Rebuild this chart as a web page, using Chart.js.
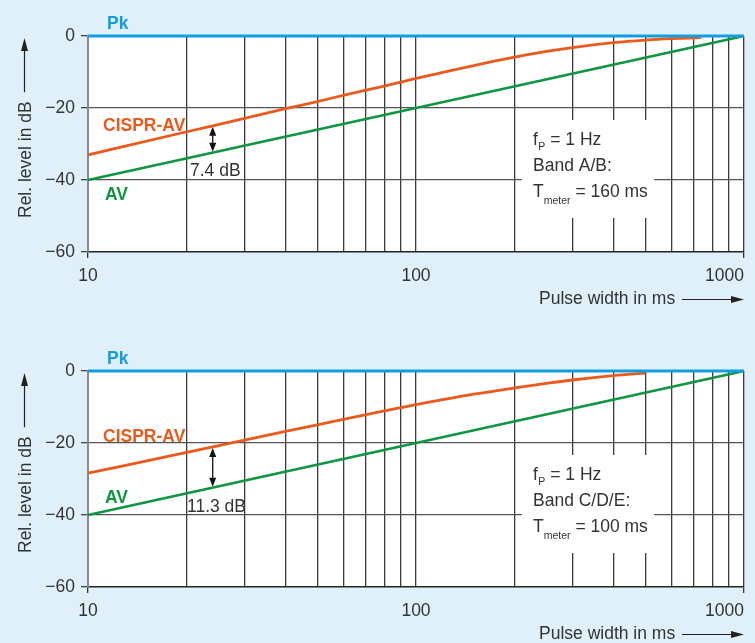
<!DOCTYPE html>
<html>
<head>
<meta charset="utf-8">
<script src="https://cdn.jsdelivr.net/npm/chart.js@4.4.1/dist/chart.umd.min.js"></script>
<style>
  html, body { margin: 0; padding: 0; background: #dff0fa; }
  #wrap { position: relative; width: 755px; height: 643px; background: #dff0fa; overflow: hidden; }
  .panel { position: absolute; left: 0; width: 755px; height: 308px; }
</style>
</head>
<body>
<div id="wrap">
  <div class="panel" style="top:0"><canvas id="chartAB" width="755" height="308"></canvas></div>
  <div class="panel" style="top:335px"><canvas id="chartCDE" width="755" height="308"></canvas></div>
</div>
<script>
// axis ticks
const xTicks = [10, 20, 30, 40, 50, 60, 70, 80, 90, 100, 200, 300, 400, 500, 600, 700, 800, 900, 1000];
const xLabels = [10, 100, 1000];
const yTicks = [0, -20, -40, -60];

// Pk and AV are the same in both panels
const pkWidth = [10, 1000];
const pkLevel = [0, 0];
const avWidth = [10, 1000];
const avLevel = [-40, 0];

// CISPR-AV, band A/B (T_meter = 160 ms)
const cisprWidthAB = [10, 20, 30, 40, 50, 60, 70, 80, 90, 100, 150, 200, 250, 300, 400, 500, 600, 700, 740];
const cisprLevelAB = [-33, -26.6, -22.9, -20.2, -18.2, -16.5, -15.1, -13.9, -12.8, -11.8, -8.2, -5.9, -4.3, -3.2, -1.85, -1.15, -0.75, -0.52, -0.45];

// CISPR-AV, band C/D/E (T_meter = 100 ms)
const cisprWidthCDE = [10, 20, 30, 40, 50, 60, 70, 80, 90, 100, 150, 200, 250, 300, 400, 500];
const cisprLevelCDE = [-28.4, -22.6, -19.2, -16.8, -14.95, -13.45, -12.2, -11.1, -10.17, -9.35, -6.45, -4.7, -3.45, -2.5, -1.3, -0.6];

// difference marker (pulse width, CISPR-AV level, AV level)
const gapWidth = 24;
const gapAB = [-24.9, -32.4];
const gapCDE = [-21.1, -32.4];

const FONT = '"Liberation Sans", Arial, sans-serif';
const FS = 17.5;
const PK_BLUE = '#129de0';
const ORANGE = '#ea5a1c';
const GREEN = '#0f9640';
const TEXT = '#333333';

Chart.defaults.font.family = FONT;

const toPoints = (xs, ys) => xs.map((v, i) => ({ x: v, y: ys[i] }));

function arrowHead(ctx, x, y, dx, dy, len, half) {
    // tip at (x,y), pointing along (dx,dy)
    ctx.beginPath();
    ctx.moveTo(x, y);
    ctx.lineTo(x - dx * len - dy * half, y - dy * len + dx * half);
    ctx.lineTo(x - dx * len + dy * half, y - dy * len - dx * half);
    ctx.closePath();
    ctx.fill();
}

const decor = {
    id: 'decor',
    beforeDraw(chart) {
        const { ctx, chartArea: a } = chart;
        ctx.save();
        ctx.fillStyle = '#ffffff';
        ctx.fillRect(a.left, a.top, a.right - a.left, a.bottom - a.top);
        ctx.restore();
    },
    afterDraw(chart, args, o) {
        const { ctx, chartArea: a } = chart;
        const x = chart.scales.x, y = chart.scales.y;
        ctx.save();

        // note box
        ctx.fillStyle = '#ffffff';
        ctx.fillRect(522, 120, 132, 98);
        ctx.fillStyle = TEXT;
        ctx.textBaseline = 'alphabetic';
        ctx.textAlign = 'left';
        const main = FS + 'px ' + FONT, sub = '10.5px ' + FONT;
        let px = 533;
        ctx.font = main; ctx.fillText('f', px, 145); px += ctx.measureText('f').width + 0.5;
        ctx.font = sub; ctx.fillText('P', px, 150); px += ctx.measureText('P').width;
        ctx.font = main; ctx.fillText(' = 1 Hz', px, 145);
        ctx.fillText(o.band, 533, 171);
        px = 533;
        ctx.fillText('T', px, 197); px += ctx.measureText('T').width;
        ctx.font = sub; ctx.fillText('meter', px, 204); px += ctx.measureText('meter').width;
        ctx.font = main; ctx.fillText(' = ' + o.tmeter + ' ms', px, 197);

        // series labels
        ctx.font = 'bold ' + FS + 'px ' + FONT;
        ctx.fillStyle = PK_BLUE; ctx.fillText('Pk', 107, 29);
        ctx.fillStyle = ORANGE; ctx.fillText('CISPR-AV', 103, o.cisprY);
        ctx.fillStyle = GREEN; ctx.fillText('AV', 105, o.avY);

        // difference arrow
        const gx = x.getPixelForValue(gapWidth);
        const g1 = y.getPixelForValue(o.gap[0]), g2 = y.getPixelForValue(o.gap[1]);
        ctx.strokeStyle = '#111'; ctx.fillStyle = '#111'; ctx.lineWidth = 1.3;
        ctx.beginPath(); ctx.moveTo(gx, g1 + 6); ctx.lineTo(gx, g2 - 6); ctx.stroke();
        arrowHead(ctx, gx, g1 + 1, 0, -1, 9, 3.5);
        arrowHead(ctx, gx, g2 - 1, 0, 1, 9, 3.5);
        ctx.fillStyle = TEXT;
        ctx.font = main;
        ctx.fillText(o.gapText, o.gapTextX, o.gapTextY);

        // x tick labels
        xLabels.forEach(v => {
            ctx.textAlign = v === 1000 ? 'right' : 'center';
            ctx.fillText(String(v), x.getPixelForValue(v), a.bottom + 29);
        });

        // x title with arrow
        ctx.textAlign = 'left';
        ctx.fillText('Pulse width in ms', 539, 304);
        ctx.strokeStyle = '#222'; ctx.fillStyle = '#222'; ctx.lineWidth = 1.2;
        ctx.beginPath(); ctx.moveTo(682, 299.5); ctx.lineTo(735, 299.5); ctx.stroke();
        arrowHead(ctx, 744, 299.5, 1, 0, 13, 3.5);

        // y title with arrow
        ctx.save();
        ctx.translate(31, 218);
        ctx.rotate(-Math.PI / 2);
        ctx.fillStyle = TEXT;
        ctx.fillText('Rel. level in dB', 0, 0);
        const w = ctx.measureText('Rel. level in dB').width;
        ctx.strokeStyle = '#222'; ctx.fillStyle = '#222';
        ctx.beginPath(); ctx.moveTo(w + 9, -6.5); ctx.lineTo(218 - 38 - 10, -6.5); ctx.stroke();
        arrowHead(ctx, 218 - 38, -6.5, 1, 0, 13, 3.5);
        ctx.restore();

        ctx.restore();
    }
};

function makeChart(id, cisprWidth, cisprLevel, note) {
    return new Chart(document.getElementById(id), {
        type: 'line',
        data: {
            datasets: [
                { label: 'Pk', data: toPoints(pkWidth, pkLevel), borderColor: PK_BLUE, borderWidth: 3.2, clip: 4 },
                { label: 'CISPR-AV', data: toPoints(cisprWidth, cisprLevel), borderColor: ORANGE, borderWidth: 2.8, cubicInterpolationMode: 'monotone', clip: 4 },
                { label: 'AV', data: toPoints(avWidth, avLevel), borderColor: GREEN, borderWidth: 2.8, clip: 4 }
            ]
        },
        options: {
            responsive: false,
            animation: false,
            layout: { padding: { top: 36, right: 11, left: 0, bottom: 0 } },
            elements: { point: { radius: 0 }, line: { fill: false } },
            plugins: { legend: { display: false }, tooltip: { enabled: false }, decor: note },
            scales: {
                x: {
                    type: 'logarithmic', min: 10, max: 1000,
                    afterBuildTicks: s => { s.ticks = xTicks.map(v => ({ value: v })); },
                    afterFit: s => { s.height = 56; },
                    ticks: { display: false },
                    grid: {
                        color: c => (c.tick && c.tick.value === 10) ? 'rgba(0,0,0,0)' : '#3a3a3a',
                        lineWidth: 1.3,
                        drawTicks: true, tickLength: 6,
                        tickColor: c => (c.tick && (c.tick.value === 10 || c.tick.value === 1000)) ? '#333' : 'rgba(0,0,0,0)'
                    },
                    border: { display: true, color: '#222', width: 1.6 }
                },
                y: {
                    min: -60, max: 0,
                    afterBuildTicks: s => { s.ticks = yTicks.map(v => ({ value: v })); },
                    afterFit: s => { s.width = 88; },
                    ticks: {
                        callback: v => v === 0 ? '0' : '\u2212' + Math.abs(v),
                        color: TEXT, font: { size: FS }, padding: 6
                    },
                    grid: {
                        color: c => (c.tick && (c.tick.value === 0 || c.tick.value === -60)) ? 'rgba(0,0,0,0)' : '#555',
                        lineWidth: 1.3, tickLength: 7, tickColor: '#444'
                    },
                    border: { color: '#8a8a8a', width: 2 }
                }
            }
        },
        plugins: [decor]
    });
}

makeChart('chartAB', cisprWidthAB, cisprLevelAB, {
    band: 'Band A/B:', tmeter: '160',
    cisprY: 131, avY: 200,
    gap: gapAB, gapText: '7.4 dB', gapTextX: 190, gapTextY: 176
});
makeChart('chartCDE', cisprWidthCDE, cisprLevelCDE, {
    band: 'Band C/D/E:', tmeter: '100',
    cisprY: 107, avY: 168,
    gap: gapCDE, gapText: '11.3 dB', gapTextX: 187, gapTextY: 177
});
</script>
</body>
</html>
